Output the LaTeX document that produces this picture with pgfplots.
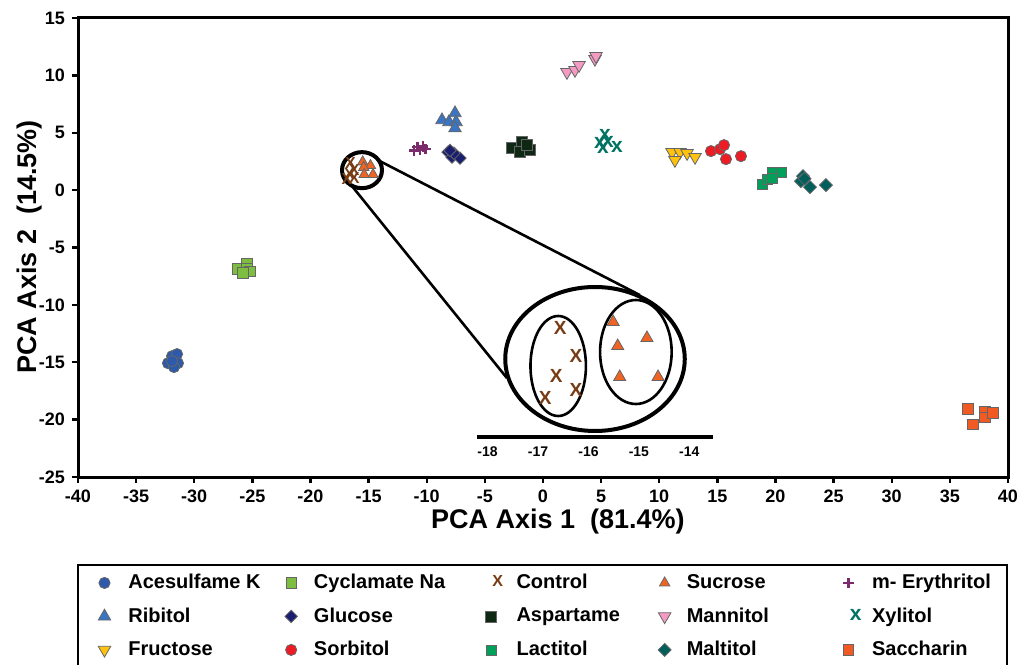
\documentclass[border=0pt]{standalone}
\usepackage{fontspec}
\setmainfont{Liberation Sans}
\usepackage{pgfplots}
\pgfplotsset{compat=1.18}
\definecolor{cAce}{RGB}{45,90,170}
\definecolor{cCyc}{RGB}{125,190,65}
\definecolor{cCtl}{RGB}{120,60,20}
\definecolor{cSuc}{RGB}{240,100,35}
\definecolor{cEry}{RGB}{123,42,107}
\definecolor{cRib}{RGB}{58,117,196}
\definecolor{cGlu}{RGB}{25,30,110}
\definecolor{cAsp}{RGB}{15,40,20}
\definecolor{cMan}{RGB}{245,155,195}
\definecolor{cXyl}{RGB}{0,115,100}
\definecolor{cFru}{RGB}{255,195,15}
\definecolor{cSor}{RGB}{237,28,36}
\definecolor{cLac}{RGB}{0,160,90}
\definecolor{cMal}{RGB}{0,95,90}
\definecolor{cSac}{RGB}{241,90,34}
\newcommand{\cA}[1]{\makebox[83.1pt][l]{\hspace*{6.8pt}#1}}
\newcommand{\cB}[1]{\makebox[90.1pt][l]{\hspace*{6.3pt}#1}}
\newcommand{\cC}[1]{\makebox[73.6pt][l]{\hspace*{4.8pt}#1}}
\newcommand{\cD}[1]{\makebox[82.1pt][l]{\hspace*{5.8pt}#1}}
\newcommand{\cE}[1]{\makebox[58.8pt][l]{\hspace*{3.3pt}#1}}
\begin{document}
\begin{tikzpicture}
\useasboundingbox (0,0) rectangle (510pt,332pt);
\clip (0,0) rectangle (510pt,332pt);
\begin{axis}[
  at={(39pt,93.5pt)}, anchor=south west,
  scale only axis, width=465pt, height=229.5pt,
  xmin=-40, xmax=40, ymin=-25, ymax=15,
  xtick={-40,-35,...,40}, ytick={-25,-20,...,15},
  tick align=outside, tick pos=left,
  major tick length=3pt,
  axis line style={line width=1.5pt},
  every tick/.style={black, line width=1.2pt},
  ticklabel style={font=\fontsize{9}{10}\selectfont\bfseries},
  /pgf/number format/assume math mode=true,
  xlabel={PCA Axis 1\ \ (81.4\%)},
  ylabel={PCA Axis 2\ \ (14.5\%)},
  label style={font=\fontsize{13.5}{15}\selectfont\bfseries},
  x label style={at={(axis description cs:0.516,-0.098)}, anchor=center},
  y label style={at={(axis description cs:-0.0516,0.501)}, anchor=center},
  clip=false,
  legend columns=5,
  legend cell align=left,
  legend style={at={(axis description cs:-0.001,-0.1895)}, anchor=north west,
    draw=black, line width=1.2pt, inner xsep=10pt, inner ysep=2.5pt,
    row sep=4pt, font=\fontsize{10}{12}\selectfont\bfseries},
]
\addplot[only marks, mark=*, mark size=2.8pt, mark options={fill=cAce, draw=black!60, line width=0.4pt}] coordinates {(-31.91,-14.47) (-31.48,-14.29) (-32.26,-15.08) (-31.40,-15.08) (-31.74,-15.42) (-31.91,-14.90)};
\addlegendentry{\cA{Acesulfame K}}
\addplot[only marks, mark=square*, mark size=2.6pt, mark options={fill=cCyc, draw=black!60, line width=0.4pt}] coordinates {(-26.24,-6.88) (-25.46,-6.36) (-25.46,-6.88) (-25.20,-7.06) (-25.81,-7.23)};
\addlegendentry{\cB{Cyclamate Na}}
\addplot[only marks, color=cCtl, mark=text, text mark={X}, text mark as node=true, text mark style={font=\fontsize{8}{8}\selectfont\bfseries, inner sep=0pt, text=cCtl}] coordinates {(-16.56,2.34) (-16.25,1.78) (-16.64,1.38) (-16.25,1.10) (-16.86,0.94)};
\addlegendentry{\cC{Control}}
\addplot[only marks, mark=triangle*, mark size=3.0pt, mark options={fill=cSuc, draw=black!60, line width=0.4pt}] coordinates {(-15.51,2.46) (-14.84,2.14) (-15.42,1.98) (-15.38,1.36) (-14.62,1.36)};
\addlegendentry{\cD{Sucrose}}
\addplot[only marks, mark=+, mark size=2.6pt, mark options={draw=cEry, line width=1.1pt}] coordinates {(-11.1,3.45) (-10.8,3.75) (-10.6,3.5) (-10.35,3.8) (-10.1,3.6)};
\addlegendentry{\cE{m- Erythritol}}
\addplot[only marks, mark=triangle*, mark size=3.6pt, mark options={fill=cRib, draw=black!60, line width=0.4pt}] coordinates {(-8.69,6.10) (-8.09,5.93) (-7.57,6.71) (-7.48,5.93) (-7.57,5.40)};
\addlegendentry{\cA{Ribitol}}
\addplot[only marks, mark=square*, mark size=2.2pt, mark options={rotate=45, fill=cGlu, draw=black!60, line width=0.4pt}] coordinates {(-8.17,3.31) (-7.83,2.88) (-7.14,2.79) (-7.66,3.22) (-8.0,3.45)};
\addlegendentry{\cB{Glucose}}
\addplot[only marks, mark=square*, mark size=2.75pt, mark options={fill=cAsp, draw=black!60, line width=0.4pt}] coordinates {(-2.67,3.66) (-1.81,4.18) (-1.98,3.31) (-1.12,3.49) (-1.38,3.92)};
\addlegendentry{\cC{Aspartame}}
\addplot[only marks, mark=triangle*, mark size=3.6pt, mark options={rotate=180, fill=cMan, draw=black!60, line width=0.4pt}] coordinates {(2.06,10.28) (2.75,10.46) (3.10,10.89) (4.47,11.42) (4.56,11.68)};
\addlegendentry{\cD{Mannitol}}
\addplot[only marks, color=cXyl, mark=text, text mark={x}, text mark as node=true, text mark style={font=\fontsize{10.5}{10.5}\selectfont\bfseries, inner sep=0pt, text=cXyl}] coordinates {(5.33,4.79) (4.90,4.10) (5.59,4.18) (5.16,3.66) (6.37,3.75)};
\addlegendentry{\cE{Xylitol}}
\addplot[only marks, mark=triangle*, mark size=3.6pt, mark options={rotate=180, fill=cFru, draw=black!60, line width=0.4pt}] coordinates {(11.10,3.31) (11.78,3.31) (12.39,3.22) (13.08,2.88) (11.35,2.61)};
\addlegendentry{\cA{Fructose}}
\addplot[only marks, mark=*, mark size=2.8pt, mark options={fill=cSor, draw=black!60, line width=0.4pt}] coordinates {(14.45,3.40) (15.23,3.57) (15.57,3.92) (15.74,2.70) (17.03,2.96)};
\addlegendentry{\cB{Sorbitol}}
\addplot[only marks, mark=square*, mark size=2.5pt, mark options={fill=cLac, draw=black!60, line width=0.4pt}] coordinates {(18.84,0.52) (19.27,0.96) (19.70,1.57) (20.47,1.57) (19.70,1.05)};
\addlegendentry{\cC{Lactitol}}
\addplot[only marks, mark=square*, mark size=2.3pt, mark options={rotate=45, fill=cMal, draw=black!60, line width=0.4pt}] coordinates {(22.37,1.22) (22.19,0.78) (22.97,0.26) (24.34,0.44) (22.5,1.0)};
\addlegendentry{\cD{Maltitol}}
\addplot[only marks, mark=square*, mark size=2.6pt, mark options={fill=cSac, draw=black!60, line width=0.4pt}] coordinates {(36.56,-19.08) (36.99,-20.39) (38.02,-19.26) (38.02,-19.78) (38.71,-19.43)};
\addlegendentry{\cE{Saccharin}}
% magnifier
\draw[line width=2pt] (axis cs:-15.57,1.74) ellipse [x radius=1.72, y radius=1.57];
\draw[line width=1.3pt] (axis cs:-14.19,2.61) -- (axis cs:8.34,-9.15);
\draw[line width=1.3pt] (axis cs:-16.43,0.35) -- (axis cs:-3.10,-16.38);
\end{axis}
% inset
\begin{axis}[
  at={(238.5pt,113.5pt)}, anchor=south west,
  scale only axis, width=118pt, height=78.5pt,
  xmin=-18.21, xmax=-13.53, ymin=0.16, ymax=3.3,
  axis x line*=bottom, axis y line=none,
  x axis line style={line width=2pt, -},
  xtick={-18,-17,-16,-15,-14}, ytick=\empty,
  major tick length=0pt,
  ticklabel style={font=\fontsize{7}{8}\selectfont\bfseries},
  xticklabel style={yshift=-1.5pt},
  /pgf/number format/assume math mode=true,
  clip=false,
]
\addplot[only marks, color=cCtl, mark=text, text mark={X}, text mark as node=true, text mark style={font=\fontsize{9.5}{9.5}\selectfont\bfseries, inner sep=0pt, text=cCtl}] coordinates {(-16.56,2.34) (-16.25,1.78) (-16.64,1.38) (-16.25,1.10) (-16.86,0.94)};
\addplot[only marks, mark=triangle*, mark size=3.5pt, mark options={fill=cSuc, draw=black!60, line width=0.4pt}] coordinates {(-15.51,2.46) (-14.84,2.14) (-15.42,1.98) (-15.38,1.36) (-14.62,1.36)};
\draw[line width=2pt] (axis cs:-15.87,1.72) ellipse [x radius=1.78, y radius=1.44];
\draw[line width=1.3pt] (axis cs:-16.60,1.58) ellipse [x radius=0.55, y radius=1.0];
\draw[line width=1.3pt] (axis cs:-15.06,1.86) ellipse [x radius=0.71, y radius=1.04];
\end{axis}
\end{tikzpicture}
\end{document}
